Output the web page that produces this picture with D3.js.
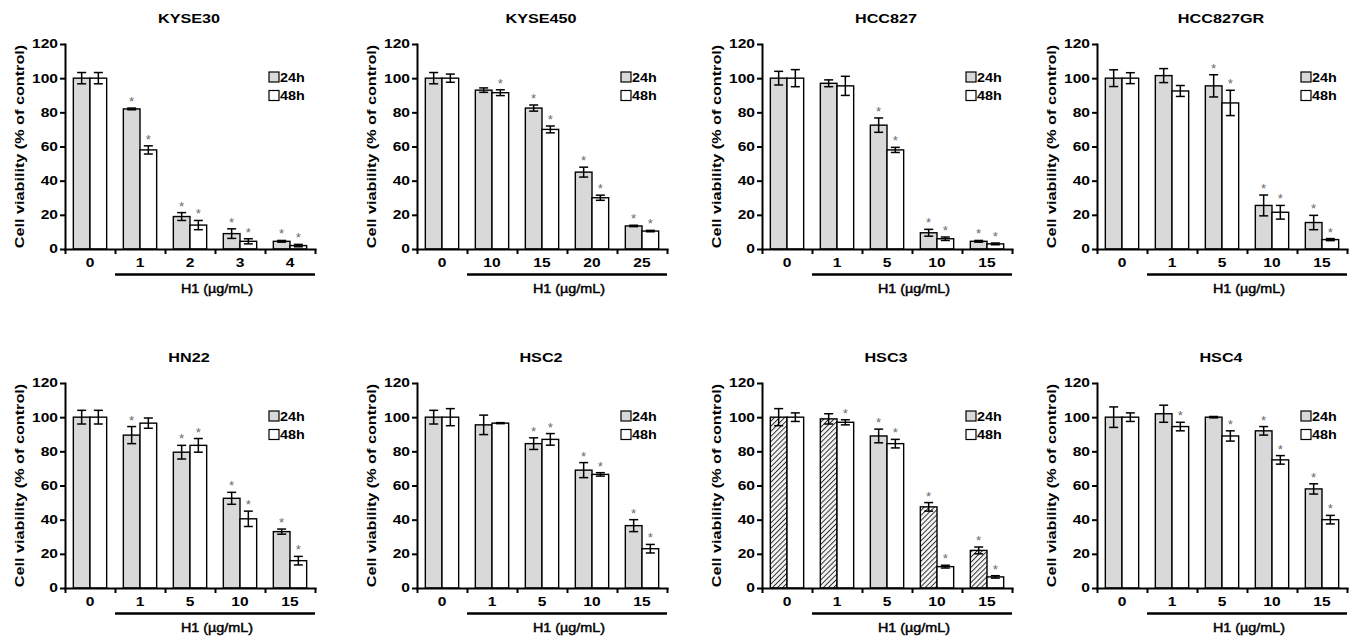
<!DOCTYPE html>
<html><head><meta charset="utf-8">
<script src="https://cdn.jsdelivr.net/npm/d3@7"></script>
<style>
body{margin:0;background:#fff;}
svg{display:block;}
text{font-family:"Liberation Sans",Arial,Helvetica,sans-serif;}
</style>
</head><body>
<svg id="c" width="1368" height="636"></svg>
<script>
// ---------- DATA ----------
const cellLines = ["KYSE30","KYSE450","HCC827","HCC827GR","HN22","HSC2","HSC3","HSC4"];
const doseLabels = [
  ["0","1","2","3","4"],
  ["0","10","15","20","25"],
  ["0","1","5","10","15"],
  ["0","1","5","10","15"],
  ["0","1","5","10","15"],
  ["0","1","5","10","15"],
  ["0","1","5","10","15"],
  ["0","1","5","10","15"]
];
const seriesNames = ["24h","48h"];
const mean24 = [
  [100,82,19,9,4.5],
  [100,93,82.5,45,13.5],
  [100,97,72.5,9.5,4.5],
  [100,101.5,95.5,25.5,15.5],
  [100,89.5,79.5,52.5,33],
  [100,95.5,84.5,69,36.5],
  [100,99,89,47.5,22],
  [100,102,100,92,58]
];
const err24 = [
  [3.3,0.5,2.3,2.8,0.5],
  [3.3,1.3,1.8,2.9,0.4],
  [4,2,4.2,2,0.5],
  [4.9,4.1,6.5,6.1,4.2],
  [4,5,4,3.5,1.5],
  [4,5.7,3.4,4.4,3.5],
  [5,3,4,2.5,2],
  [6,5,0.4,2.5,3]
];
const mean48 = [
  [100,58,14,4.5,2],
  [100,91.5,70,30,10.5],
  [100,95.5,58,6,3],
  [100,92.5,85.5,21.5,5.5],
  [100,96.5,83.5,40.5,16],
  [100,96.5,87,66.5,23],
  [100,97,84.5,12.5,6.5],
  [100,94.5,89,75,40]
];
const err48 = [
  [3.3,2.4,2.7,1.5,0.7],
  [2.4,1.7,2,1.5,0.4],
  [5,5.6,1.5,1,0.5],
  [3.2,3.2,7.4,4,0.6],
  [4,3,4,4.5,2.5],
  [5,0.3,3.4,1,2.5],
  [2.5,1.5,2.5,0.8,0.7],
  [2.5,2.5,3,2.5,2.5]
];
const star24 = [
  [0,1,1,1,1],[0,0,1,1,1],[0,0,1,1,1],[0,0,1,1,1],
  [0,1,1,1,1],[0,0,1,1,1],[0,0,1,1,1],[0,0,0,1,1]
];
const star48 = [
  [0,1,1,1,1],[0,1,1,1,1],[0,0,1,1,1],[0,0,1,1,1],
  [0,0,1,1,1],[0,0,1,1,1],[0,1,1,1,1],[0,1,1,1,1]
];
const hatch24 = [
  [0,0,0,0,0],[0,0,0,0,0],[0,0,0,0,0],[0,0,0,0,0],
  [0,0,0,0,0],[0,0,0,0,0],[1,1,0,1,1],[0,0,0,0,0]
];
const yTicks = [0,20,40,60,80,100,120];
const xTitle = "H1 (µg/mL)";
const yTitle = "Cell viability (% of control)";

// ---------- LAYOUT ----------
const colX = [65, 417, 762, 1097];
const rowTop = [44, 383];
const rowBase = [249, 588];
const plotW = 250;
const GRAY = "#d9d9d9";
const FONT = '"Liberation Sans",Arial,Helvetica,sans-serif';

const svg = d3.select("#c");
const defs = svg.append("defs");
const pat = defs.append("pattern").attr("id","hatch").attr("patternUnits","userSpaceOnUse")
  .attr("width",3.6).attr("height",3.6).attr("patternTransform","rotate(45)");
pat.append("rect").attr("width",3.6).attr("height",3.6).attr("fill","#f4f4f4");
pat.append("line").attr("x1",0.5).attr("y1",0).attr("x2",0.5).attr("y2",3.6)
  .attr("stroke","#222").attr("stroke-width",0.9);

function txt(g, x, y, str, o) {
  const t = g.append("text")
    .attr("transform", `translate(${x},${y})${o.rotate ? " rotate(-90)" : ""} scale(${o.sx||1},1)`)
    .attr("text-anchor", o.anchor || "middle")
    .attr("font-size", o.size)
    .attr("font-weight", o.weight || "bold")
    .attr("fill", o.fill || "#000")
    .text(str);
  if (o.dy) t.attr("dy", o.dy);
  if (o.stroke) t.attr("stroke", o.fill || "#000").attr("stroke-width", o.stroke);
  return t;
}

cellLines.forEach((name, p) => {
  const col = p % 4, row = Math.floor(p / 4);
  const x0 = colX[col], yTop = rowTop[row], yBase = rowBase[row];
  const g = svg.append("g");

  const y = d3.scaleLinear().domain([0,120]).range([yBase, yTop]);
  const x = d3.scaleBand().domain(doseLabels[p]).range([x0, x0 + plotW]).paddingInner(0).paddingOuter(0);
  const xs = d3.scaleBand().domain(seriesNames).range([0, x.bandwidth()]).paddingInner(0).paddingOuter(0.5);
  const xb = d3.scaleLinear().domain([0, doseLabels[p].length]).range([x0, x0 + plotW]);

  // bars
  const rows = [];
  doseLabels[p].forEach((d, i) => {
    rows.push({dose:d, s:"24h", v:mean24[p][i], e:err24[p][i], star:star24[p][i], hatch:hatch24[p][i]});
    rows.push({dose:d, s:"48h", v:mean48[p][i], e:err48[p][i], star:star48[p][i], hatch:0});
  });
  const bx = r => x(r.dose) + xs(r.s);
  const bw = xs.bandwidth();

  g.selectAll("rect.bar").data(rows).join("rect").attr("class","bar")
    .attr("x", bx).attr("width", bw)
    .attr("y", r => y(r.v)).attr("height", r => yBase - y(r.v))
    .attr("fill", r => r.s === "24h" ? (r.hatch ? "url(#hatch)" : GRAY) : "#fff")
    .attr("stroke", "#000").attr("stroke-width", 1.4);

  // error bars
  const eg = g.selectAll("g.err").data(rows).join("g").attr("class","err")
    .attr("stroke","#000").attr("stroke-width",1.5);
  eg.append("line").attr("x1", r => bx(r) + bw/2).attr("x2", r => bx(r) + bw/2)
    .attr("y1", r => y(r.v + r.e)).attr("y2", r => y(Math.max(0, r.v - r.e)));
  eg.append("line").attr("x1", r => bx(r) + bw/2 - 4.5).attr("x2", r => bx(r) + bw/2 + 4.5)
    .attr("y1", r => y(r.v + r.e)).attr("y2", r => y(r.v + r.e));
  eg.append("line").attr("x1", r => bx(r) + bw/2 - 4.5).attr("x2", r => bx(r) + bw/2 + 4.5)
    .attr("y1", r => y(Math.max(0, r.v - r.e))).attr("y2", r => y(Math.max(0, r.v - r.e)));

  // asterisks
  rows.filter(r => r.star).forEach(r => {
    txt(g, bx(r) + bw/2, y(r.v + r.e) - 2, "*", {size:12, weight:"normal", fill:"#6b6b6b", sx:1.1});
  });

  // y axis
  const ya = g.append("g").attr("transform", `translate(${x0},0)`)
    .call(d3.axisLeft(y).tickValues(yTicks).tickSize(5).tickSizeOuter(0).tickPadding(3));
  ya.select(".domain").attr("stroke-width", 2).attr("stroke-linecap","square");
  ya.selectAll(".tick line").attr("stroke-width", 2);
  ya.selectAll(".tick text")
    .attr("font-family", FONT).attr("font-size", 12).attr("font-weight","bold").attr("fill","#000")
    .attr("x", -7/1.3).attr("transform","scale(1.3,1)");

  // x axis: boundary ticks
  const xa = g.append("g").attr("transform", `translate(0,${yBase})`)
    .call(d3.axisBottom(xb).tickValues(d3.range(doseLabels[p].length + 1)).tickSize(5).tickSizeOuter(0).tickFormat(""));
  xa.select(".domain").attr("stroke-width", 2).attr("stroke-linecap","square");
  xa.selectAll(".tick line").attr("stroke-width", 2);

  // x axis: dose labels
  const xl = g.append("g").attr("transform", `translate(0,${yBase})`)
    .call(d3.axisBottom(x).tickSize(0).tickSizeOuter(0));
  xl.select(".domain").remove();
  xl.selectAll(".tick text")
    .attr("font-family", FONT).attr("font-size", 12).attr("font-weight","bold").attr("fill","#000")
    .attr("y", 18.5).attr("dy", null).attr("transform","scale(1.3,1)");

  // underline for H1 doses
  const d1 = doseLabels[p][1];
  g.append("line").attr("x1", x(d1)).attr("x2", x0 + plotW)
    .attr("y1", yBase + 25.5).attr("y2", yBase + 25.5)
    .attr("stroke","#000").attr("stroke-width", 2.5);
  txt(g, (x(d1) + x0 + plotW)/2 + 2, yBase + 43.5, xTitle, {size:12.5, weight:"normal", sx:1.15, stroke:0.45});

  // y title
  txt(g, x0 - 46, (yTop + yBase)/2, yTitle, {size:13.5, rotate:true, sx:1.2, dy:"0.36em"});

  // title
  txt(g, x0 + 124, yTop - 21, name, {size:13.5, sx:1.2});

  // legend
  seriesNames.forEach((s, i) => {
    const ly = yTop + 33 + i * 18.5;
    g.append("rect").attr("x", x0 + 204).attr("y", ly - 5).attr("width", 10).attr("height", 10)
      .attr("fill", i === 0 ? GRAY : "#fff").attr("stroke","#000").attr("stroke-width",1.2);
    txt(g, x0 + 215, ly + 4.5, s, {size:12, anchor:"start", sx:1.2});
  });
});
</script>
</body></html>
